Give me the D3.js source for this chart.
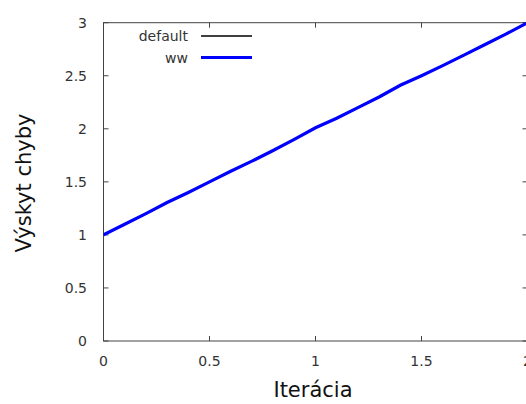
<!DOCTYPE html>
<html><head><meta charset="utf-8">
<script src="https://cdn.jsdelivr.net/npm/d3@7"></script>
<style>body{margin:0;background:#fff}svg{display:block}</style>
</head><body>
<script>
const xTicks = [0, 0.5, 1, 1.5, 2];
const yTicks = [0, 0.5, 1, 1.5, 2, 2.5, 3];
const iterations = [0,0.1,0.2,0.3,0.4,0.5,0.6,0.7,0.8,0.9,1.0,1.1,1.2,1.3,1.4,1.5,1.6,1.7,1.8,1.9,2.0];
const seriesDefault = [1.00,1.10,1.20,1.305,1.40,1.50,1.60,1.695,1.795,1.90,2.01,2.10,2.20,2.30,2.41,2.50,2.595,2.695,2.795,2.895,3.00];
const seriesWW      = [1.00,1.10,1.20,1.305,1.40,1.50,1.60,1.695,1.795,1.90,2.01,2.10,2.20,2.30,2.41,2.50,2.595,2.695,2.795,2.895,3.00];
const seriesNames = ["default", "ww"];
const seriesColors = ["#000000", "#0000ff"];

const W = 526, H = 404;
const svg = d3.select("body").append("svg").attr("width", W).attr("height", H);
const x = d3.scaleLinear().domain([0, 2]).range([103.5, 527.5]);
const y = d3.scaleLinear().domain([0, 3]).range([341, 22.7]);
const font = "DejaVu Sans, sans-serif";
const axisColor = "#444";

svg.append("rect").attr("x", x(0)).attr("y", y(3)).attr("width", x(2) - x(0)).attr("height", y(0) - y(3))
  .attr("fill", "none").attr("stroke", axisColor).attr("stroke-width", 1);

const tl = 5;
const g = svg.append("g").attr("stroke", axisColor).attr("stroke-width", 1);
xTicks.forEach(t => {
  g.append("line").attr("x1", x(t)).attr("x2", x(t)).attr("y1", y(0)).attr("y2", y(0) - tl);
  g.append("line").attr("x1", x(t)).attr("x2", x(t)).attr("y1", y(3)).attr("y2", y(3) + tl);
});
yTicks.forEach(t => {
  g.append("line").attr("x1", x(0)).attr("x2", x(0) + tl).attr("y1", y(t)).attr("y2", y(t));
  g.append("line").attr("x1", x(2)).attr("x2", x(2) - tl).attr("y1", y(t)).attr("y2", y(t));
});

svg.selectAll(".xt").data(xTicks).enter().append("text")
  .attr("x", d => x(d)).attr("y", 366).attr("text-anchor", "middle")
  .attr("font-family", font).attr("font-size", 14).attr("fill", "#333").text(d => d);
svg.selectAll(".yt").data(yTicks).enter().append("text")
  .attr("x", 87).attr("y", d => y(d) + 5).attr("text-anchor", "end")
  .attr("font-family", font).attr("font-size", 14).attr("fill", "#333").text(d => d);

svg.append("text").attr("x", 313).attr("y", 397).attr("text-anchor", "middle")
  .attr("font-family", font).attr("font-size", 21).attr("fill", "#111").text("Iterácia");
svg.append("text").attr("transform", "translate(31,183) rotate(-90)").attr("text-anchor", "middle")
  .attr("font-family", font).attr("font-size", 21).attr("fill", "#111").text("Výskyt chyby");

const line = d3.line().x((d, i) => x(iterations[i])).y(d => y(d));
svg.append("clipPath").attr("id", "c").append("rect")
  .attr("x", x(0)).attr("y", y(3) - 2).attr("width", x(2) - x(0) + 2).attr("height", y(0) - y(3) + 4);
svg.append("path").attr("d", line(seriesDefault)).attr("fill", "none")
  .attr("stroke", seriesColors[0]).attr("stroke-width", 1.5).attr("clip-path", "url(#c)");
svg.append("path").attr("d", line(seriesWW)).attr("fill", "none")
  .attr("stroke", seriesColors[1]).attr("stroke-width", 3.2).attr("clip-path", "url(#c)");

const legY = [36, 57.5];
seriesNames.forEach((n, i) => {
  svg.append("text").attr("x", 188).attr("y", legY[i] + 5).attr("text-anchor", "end")
    .attr("font-family", font).attr("font-size", 14).attr("fill", "#333").text(n);
  svg.append("line").attr("x1", 201).attr("x2", 252).attr("y1", legY[i]).attr("y2", legY[i])
    .attr("stroke", seriesColors[i]).attr("stroke-width", i === 0 ? 1.5 : 3);
});
</script>
</body></html>
